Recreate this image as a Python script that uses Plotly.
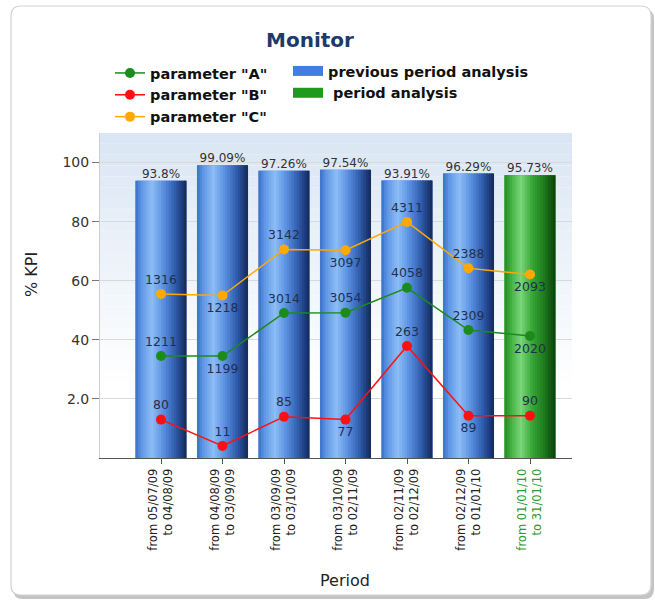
import plotly.graph_objects as go

# ---- data -------------------------------------------------------------
periods = [
    ("from 05/07/09", "to 04/08/09"),
    ("from 04/08/09", "to 03/09/09"),
    ("from 03/09/09", "to 03/10/09"),
    ("from 03/10/09", "to 02/11/09"),
    ("from 02/11/09", "to 02/12/09"),
    ("from 02/12/09", "to 01/01/10"),
    ("from 01/01/10", "to 31/01/10"),
]
kpi = [93.8, 99.09, 97.26, 97.54, 93.91, 96.29, 95.73]   # % KPI per period
current_index = 6                                          # last period = current

param_a = [34.5, 34.5, 49.1, 49.2, 57.6, 43.3, 41.3]
param_a_counts = [1211, 1199, 3014, 3054, 4058, 2309, 2020]
param_a_pos = ["top", "bottom", "top", "top", "top", "top", "bottom"]

param_b = [13.0, 4.1, 14.0, 13.0, 37.9, 14.3, 14.3]
param_b_counts = [80, 11, 85, 77, 263, 89, 90]
param_b_pos = ["top", "top", "top", "bottom", "top", "bottom", "top"]

param_c = [55.5, 55.0, 70.6, 70.3, 79.9, 64.2, 62.1]
param_c_counts = [1316, 1218, 3142, 3097, 4311, 2388, 2093]
param_c_pos = ["top", "bottom", "top", "bottom", "top", "top", "bottom"]

y_ticks = [20, 40, 60, 80, 100]
y_tick_text = ["2.0", "40", "60", "80", "100"]

# ---- geometry helpers ------------------------------------------------
W, H = 655, 602
PL, PR, PT, PB = 100, 572, 133, 458          # plot area in pixels
x_range = [-0.992, 6.683]
y_range = [0, 110]
BAR_W = 0.83


def px_x(p):
    return (p - PL) / (PR - PL)


def px_y(p):
    return (PB - p) / (PB - PT)


def hex2rgb(h):
    h = h.lstrip("#")
    return tuple(int(h[i:i + 2], 16) for i in (0, 2, 4))


def gradient(stops, t):
    for (t0, c0), (t1, c1) in zip(stops, stops[1:]):
        if t0 <= t <= t1:
            f = (t - t0) / (t1 - t0) if t1 > t0 else 0
            a, b = hex2rgb(c0), hex2rgb(c1)
            return "rgb(%d,%d,%d)" % tuple(round(a[i] + (b[i] - a[i]) * f) for i in range(3))
    return stops[-1][1]


blue_stops = [(0.0, "#3a6fc8"), (0.12, "#5f97e6"), (0.32, "#8cbdf6"),
              (0.55, "#5a8fe0"), (0.78, "#2f5cab"), (0.92, "#1d3a78"), (1.0, "#142a55")]
green_stops = [(0.0, "#238a23"), (0.12, "#3fae3f"), (0.32, "#7ad67a"),
               (0.55, "#35a535"), (0.78, "#1e7a1e"), (0.92, "#125412"), (1.0, "#0c3f0c")]

fig = go.Figure()

xs = list(range(len(kpi)))

# ---- cylinder-shaded bars: a base bar plus overlapping vertical strips
fig.add_trace(go.Bar(
    x=xs, y=kpi, width=BAR_W,
    marker=dict(color=[gradient(green_stops if k == current_index else blue_stops, 0.6) for k in xs],
                line=dict(width=0)),
    showlegend=False, hoverinfo="skip",
))
N_STRIPS = 20
step = BAR_W / N_STRIPS
for i in range(N_STRIPS):
    t = (i + 0.5) / N_STRIPS
    colors = [gradient(green_stops if k == current_index else blue_stops, t) for k in xs]
    w = step if i == N_STRIPS - 1 else step * 1.6
    fig.add_trace(go.Bar(
        x=xs, y=kpi,
        width=[w] * len(xs),
        offset=[-BAR_W / 2 + i * step] * len(xs),
        marker=dict(color=colors, line=dict(width=0)),
        showlegend=False, hoverinfo="skip",
    ))

# bar value labels
fig.add_trace(go.Scatter(
    x=xs, y=kpi, mode="text",
    text=[f"{v}%" for v in kpi], textposition="top center",
    textfont=dict(family="DejaVu Sans", size=12, color="#333333"),
    showlegend=False, hoverinfo="skip",
))

# ---- parameter lines -------------------------------------------------
label_font = dict(family="DejaVu Sans", size=12.5, color="#22304f")
for name, ys, counts, pos, col in [
    ('parameter "A"', param_a, param_a_counts, param_a_pos, "#1b8c1b"),
    ('parameter "B"', param_b, param_b_counts, param_b_pos, "#ff1010"),
    ('parameter "C"', param_c, param_c_counts, param_c_pos, "#ffa800"),
]:
    fig.add_trace(go.Scatter(
        x=xs, y=ys, name=name, mode="lines+markers+text",
        line=dict(color=col, width=1.5),
        marker=dict(color=col, size=10),
        text=[str(c) for c in counts],
        textposition=[p + " center" for p in pos],
        textfont=label_font,
        legend="legend",
    ))

# legend keys for the two bar groups (wide colour blocks)
fig.add_trace(go.Scatter(x=[None], y=[None], name="previous period analysis", mode="lines",
                         line=dict(color="#3d80e2", width=10), legend="legend2"))
fig.add_trace(go.Scatter(x=[None], y=[None], name=" period analysis", mode="lines",
                         line=dict(color="#1f9a1f", width=10), legend="legend2"))


# ---- card frame & plot background ------------------------------------
def rounded_rect(x0, y0, x1, y1, r):
    pts = [
        f"M {px_x(x0 + r)},{px_y(y0)}",
        f"L {px_x(x1 - r)},{px_y(y0)}",
        f"Q {px_x(x1)},{px_y(y0)} {px_x(x1)},{px_y(y0 + r)}",
        f"L {px_x(x1)},{px_y(y1 - r)}",
        f"Q {px_x(x1)},{px_y(y1)} {px_x(x1 - r)},{px_y(y1)}",
        f"L {px_x(x0 + r)},{px_y(y1)}",
        f"Q {px_x(x0)},{px_y(y1)} {px_x(x0)},{px_y(y1 - r)}",
        f"L {px_x(x0)},{px_y(y0 + r)}",
        f"Q {px_x(x0)},{px_y(y0)} {px_x(x0 + r)},{px_y(y0)} Z",
    ]
    return " ".join(pts)


shapes = [
    dict(type="path", path=rounded_rect(13, 9, 654, 599, 10), xref="paper", yref="paper",
         fillcolor="#c4c4c4", line=dict(width=0), layer="below"),
    dict(type="path", path=rounded_rect(11, 6, 651, 595, 10), xref="paper", yref="paper",
         fillcolor="white", line=dict(color="#d2d2d2", width=1.2), layer="below"),
]
N_BG = 30
for i in range(N_BG):
    t = i / N_BG
    f = max(0.0, 1 - t / 0.75)
    c0, c1 = hex2rgb("#ffffff"), hex2rgb("#dae6f4")
    col = "rgb(%d,%d,%d)" % tuple(round(c0[k] + (c1[k] - c0[k]) * f) for k in range(3))
    shapes.append(dict(type="rect", xref="x domain", yref="y domain",
                       x0=0, x1=1, y0=1 - (i + 1) / N_BG, y1=1 - i / N_BG,
                       fillcolor=col, line=dict(width=0), layer="below"))

tick_text = []
for k, (a, b) in enumerate(periods):
    if k == current_index:
        tick_text.append(f'<span style="color:#2e9a2e">{a}</span><br>'
                         f'<span style="color:#2e9a2e">{b}</span>')
    else:
        tick_text.append(f"{a}<br>{b}")

legend_font = dict(family="DejaVu Sans", size=14.5, color="#111111", weight="bold")

fig.update_layout(
    width=W, height=H,
    margin=dict(l=PL, r=W - PR, t=PT, b=H - PB, pad=0),
    paper_bgcolor="white", plot_bgcolor="rgba(0,0,0,0)",
    barmode="overlay",
    font=dict(family="DejaVu Sans", color="#222222"),
    title=dict(text="<b>Monitor</b>", x=px_x(310), xref="paper", xanchor="center",
               y=1 - 40 / H, yanchor="middle",
               font=dict(family="DejaVu Sans", size=20, color="#1f3a6a")),
    xaxis=dict(range=x_range, tickvals=xs, ticktext=tick_text, tickangle=-90,
               tickfont=dict(family="DejaVu Sans", size=11.5, color="#222222"),
               showgrid=False, zeroline=False, showline=True, linecolor="#555555",
               ticks="outside", ticklen=5, tickcolor="#555555"),
    yaxis=dict(range=y_range, tickvals=y_ticks, ticktext=y_tick_text,
               tickfont=dict(family="DejaVu Sans", size=14, color="#333333"),
               showgrid=True, gridcolor="#d9d9d9", zeroline=False,
               showline=True, linecolor="#cfcfcf",
               ticks="outside", ticklen=7, tickcolor="#777777"),
    legend=dict(x=px_x(110), y=px_y(57), xanchor="left", yanchor="top",
                bgcolor="rgba(0,0,0,0)", font=legend_font,
                tracegroupgap=0, itemwidth=30),
    legend2=dict(x=px_x(288), y=px_y(55), xanchor="left", yanchor="top",
                 bgcolor="rgba(0,0,0,0)", font=legend_font,
                 tracegroupgap=0, itemwidth=30),
    shapes=shapes,
    annotations=[
        dict(text="% KPI", xref="paper", yref="paper", x=px_x(31), y=px_y(275),
             xanchor="center", yanchor="middle",
             textangle=-90, showarrow=False, font=dict(family="DejaVu Sans", size=16, color="#222222")),
        dict(text="Period", xref="paper", yref="paper", x=px_x(345), y=px_y(580),
             xanchor="center", yanchor="middle",
             showarrow=False, font=dict(family="DejaVu Sans", size=16, color="#222222")),
    ],
)

fig.write_html("out.html")
